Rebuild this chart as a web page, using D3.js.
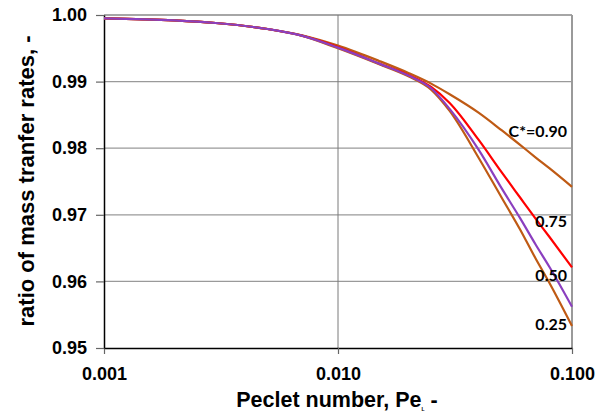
<!DOCTYPE html>
<html>
<head>
<meta charset="utf-8">
<script src="https://cdn.jsdelivr.net/npm/d3@7"></script>
<style>
  html, body { margin: 0; padding: 0; background: #fff; }
  svg { display: block; }
</style>
</head>
<body>
<svg id="chart" width="604" height="416"></svg>
<script>
// Peclet number (log axis)
const pe = [0.001, 0.002, 0.003, 0.005, 0.007, 0.01, 0.015, 0.02, 0.025, 0.03, 0.04, 0.05, 0.06, 0.07, 0.08, 0.1];

// ratio of mass transfer rates for each C*
const c90 = [0.9995, 0.9992, 0.9988, 0.9979, 0.99695, 0.9954, 0.9931, 0.9913, 0.9897, 0.9881, 0.9853, 0.9827, 0.9805, 0.9786, 0.9770, 0.9742];
const c75 = [0.9995, 0.9992, 0.9988, 0.9979, 0.9969, 0.9952, 0.9927, 0.9910, 0.9892, 0.9868, 0.9812, 0.9764, 0.9726, 0.9694, 0.9667, 0.9621];
const c50 = [0.9995, 0.9992, 0.9988, 0.9979, 0.9969, 0.9951, 0.9927, 0.9909, 0.9890, 0.9859, 0.9797, 0.9740, 0.9695, 0.9655, 0.9622, 0.9562];
const c25 = [0.9995, 0.9992, 0.9988, 0.9979, 0.9969, 0.9950, 0.9926, 0.9908, 0.9888, 0.9856, 0.9785, 0.9726, 0.9678, 0.9634, 0.9598, 0.9533];

const seriesLabels = ["C*=0.90", "0.75", "0.50", "0.25"];

const xTicks = [0.001, 0.01, 0.1];
const xTickLabels = ["0.001", "0.010", "0.100"];
const yTicks = [0.95, 0.96, 0.97, 0.98, 0.99, 1.00];
const yTickLabels = ["0.95", "0.96", "0.97", "0.98", "0.99", "1.00"];

const svg = d3.select("#chart");
const plot = { left: 104, right: 572, top: 15, bottom: 348 };

const x = d3.scaleLog().domain([0.001, 0.1]).range([plot.left, plot.right]);
const y = d3.scaleLinear().domain([0.95, 1.0]).range([plot.bottom, plot.top]);

const tickFont = "'Liberation Sans', Arial, sans-serif";

// horizontal grid
svg.append("g")
  .selectAll("line")
  .data(yTicks.filter(v => v > 0.95))
  .join("line")
  .attr("x1", plot.left).attr("x2", plot.right)
  .attr("y1", d => y(d)).attr("y2", d => y(d))
  .attr("stroke", d => d === 1.0 ? "#a6a6a6" : "#9a9a9a")
  .attr("stroke-width", d => d === 1.0 ? 2 : 1.2);

// vertical grid at 0.010
svg.append("line")
  .attr("x1", x(0.01)).attr("x2", x(0.01))
  .attr("y1", plot.top).attr("y2", plot.bottom)
  .attr("stroke", "#7a7a7a").attr("stroke-width", 1);

// right border
svg.append("line")
  .attr("x1", x(0.1)).attr("x2", x(0.1))
  .attr("y1", plot.top).attr("y2", plot.bottom)
  .attr("stroke", "#9a9a9a").attr("stroke-width", 2);

// axes
const xAxis = d3.axisBottom(x)
  .tickValues(xTicks)
  .tickFormat((d, i) => xTickLabels[i])
  .tickSize(6).tickPadding(13).tickSizeOuter(0);

const yAxis = d3.axisLeft(y)
  .tickValues(yTicks)
  .tickFormat((d, i) => yTickLabels[i])
  .tickSize(8).tickPadding(9).tickSizeOuter(0);

const gx = svg.append("g").attr("transform", `translate(0,${plot.bottom})`).call(xAxis);
const gy = svg.append("g").attr("transform", `translate(${plot.left},0)`).call(yAxis);

[gx, gy].forEach(g => {
  g.select(".domain").attr("stroke", "#000").attr("stroke-width", 1.5);
  g.selectAll(".tick line").attr("stroke", "#666").attr("stroke-width", 1.2);
  g.selectAll(".tick text")
    .attr("fill", "#000")
    .style("font-family", tickFont)
    .style("font-weight", "bold")
    .style("font-size", "18px");
});

// curves
const line = d3.line()
  .x((d, i) => x(pe[i]))
  .y(d => y(d))
  .curve(d3.curveMonotoneX);

const series = [
  { values: c90, color: "#bf5a14" },
  { values: c75, color: "#ff0000" },
  { values: c25, color: "#bf5a14" },
  { values: c50, color: "#8b3fbf" }
];

svg.append("g")
  .selectAll("path")
  .data(series)
  .join("path")
  .attr("d", d => line(d.values))
  .attr("fill", "none")
  .attr("stroke", d => d.color)
  .attr("stroke-width", 2.2)
  .attr("stroke-linejoin", "round");

// curve labels
const labelY = [136.5, 227, 281, 330];
svg.append("g")
  .selectAll("text")
  .data(seriesLabels)
  .join("text")
  .attr("x", 567)
  .attr("y", (d, i) => labelY[i])
  .attr("text-anchor", "end")
  .style("font-family", "Lato, 'Open Sans', sans-serif")
  .style("font-weight", "bold")
  .style("font-size", "16px")
  .attr("fill", "#000")
  .text(d => d);

// axis titles
svg.append("text")
  .attr("transform", "translate(34,181) rotate(-90)")
  .attr("text-anchor", "middle")
  .style("font-family", tickFont)
  .style("font-weight", "bold")
  .style("font-size", "22px")
  .text("ratio of mass tranfer rates, -");

const xt = svg.append("text")
  .attr("x", 337).attr("y", 407)
  .attr("text-anchor", "middle")
  .style("font-family", tickFont)
  .style("font-weight", "bold")
  .style("font-size", "21.5px");
xt.append("tspan").text("Peclet number, Pe");
xt.append("tspan").attr("dy", 4).style("font-size", "5px").text("L");
xt.append("tspan").attr("dy", -4).text(" -");
</script>
</body>
</html>
